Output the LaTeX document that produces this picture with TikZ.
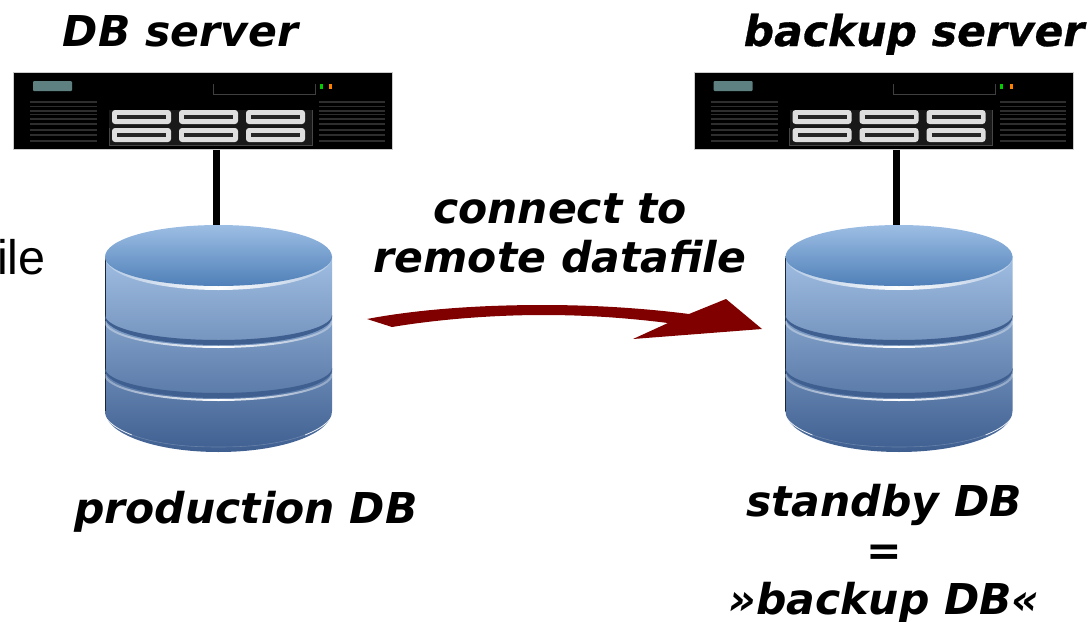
\documentclass[tikz,border=0pt]{standalone}
\usepackage{fontspec}
\usetikzlibrary{fadings}
\setmainfont{DejaVu Sans}
\newfontfamily\lib{Liberation Sans}
\newfontface\heavybi{DejaVu Sans Bold Oblique}[FakeBold=0.7]
\definecolor{arrowred}{HTML}{800000}
\definecolor{tagc}{HTML}{5F8080}
\tikzfading[name=midbright,left color=transparent!72,right color=transparent!72,middle color=transparent!0]
\newcommand{\hel}[2]{(105,#1) .. controls (105,#1+0.552*#2) and (155,#1+#2) .. (218.5,#1+#2) .. controls (282,#1+#2) and (332,#1+0.552*#2) .. (332,#1)}
\newcommand{\helrev}[2]{.. controls (332,#1+0.552*#2) and (282,#1+#2) .. (218.5,#1+#2) .. controls (155,#1+#2) and (105,#1+0.552*#2) .. (105,#1)}
% one band: dark crescent, then a highlight that is brightest in the middle
\newcommand{\dbband}[1]{%
  \fill[bandc] \hel{#1}{25} -- (332,#1+2) \helrev{#1+2}{28} -- cycle;
  \draw[white,line width=2pt,path fading=midbright] \hel{#1+6}{26};
}
\newcommand{\drawdb}[1]{%
  \shade[top color=dbtop,bottom color=dbbot] (105,256) -- \hel{411}{41} -- (332,256) -- cycle;
  \draw[line width=.5pt,black!60!dbbot] (105,256) -- (105,411);
  % bottom rim
  \draw[white,line width=.8pt,opacity=.9] (106,418) .. controls (112,426) and (122,431) .. (132,435);
  \draw[white,line width=.8pt,opacity=.9] (331,418) .. controls (325,426) and (315,431) .. (305,435);
  \draw[white,line width=.6pt,opacity=.2] (132,435) .. controls (160,445) and (190,447) .. (218.5,447) .. controls (247,447) and (277,445) .. (305,435);
  \dbband{315}
  \dbband{368}
  % top
  \fill[white,path fading=midbright] \hel{257}{33} -- cycle;
  \shade[top color=ctop,bottom color=cbot] (105,257) .. controls (105,239) and (155,225) .. (218.5,225) .. controls (282,225) and (332,239) .. (332,257) \helrev{257}{29} -- cycle;
  \coordinate (#1) at (216,225);
}
\newcommand{\drawsrv}[1]{%
  \node[srvbox] (#1) at (203,111) {};
  \fill[tagc,rounded corners=1pt] (33,81) rectangle (72,91);
  \draw[line width=.8pt,black!75] (213,84) -- (213,94) -- (315,94) -- (315,84);
  \fill[green!80!black] (319.5,83.5) rectangle (322.5,88.5);
  \fill[orange] (329,83.5) rectangle (332,88.5);
  \foreach \v in {102,106.5,111,114.5,119,124,130,135,141}{
    \draw[ventc,line width=1.5pt] (30,\v) -- (97,\v);
    \draw[ventc,line width=1.5pt] (319,\v) -- (385,\v);
  }
  \fill[black!90] (109,110) rectangle (312,145);
  \draw[black!72,line width=.8pt] (109,128) -- (109,145) -- (312,145) -- (312,110);
  \foreach \x in {112,179,246}{
    \foreach \y in {110,128}{
      \fill[black!13,rounded corners=3pt] (\x,\y) rectangle (\x+59,\y+14);
      \fill[black!85] (\x+5,\y+5) rectangle (\x+54,\y+9);
    }
  }
}
\definecolor{dbtop}{HTML}{A0BEE2}
\definecolor{dbbot}{HTML}{3F5F91}
\definecolor{ctop}{HTML}{9DBEE4}
\definecolor{cbot}{HTML}{4F80B8}
\definecolor{bandc}{HTML}{3F5F90}
\definecolor{ventc}{HTML}{2E2E2E}
\tikzset{
  srvbox/.style={fill=black,draw=black!20,line width=.5pt,minimum width=379pt,minimum height=77pt,inner sep=0pt,outer sep=0pt},
  lab/.style={font=\fontsize{42.5}{49}\selectfont\bfseries\itshape,align=center,inner sep=0pt,text=black},
  link/.style={black,line width=7pt}
}
\begin{document}
\begin{tikzpicture}[x=1pt,y=-1pt]
\useasboundingbox (0,0) rectangle (1092,621);
\clip (0,0) rectangle (1092,621);
\drawsrv{srvA}
\drawdb{dbA}
\draw[link] (dbA |- srvA.south) -- (dbA);
\begin{scope}[shift={(680.5,0)}]
\drawsrv{srvB}
\drawdb{dbB}
\draw[link] (dbB |- srvB.south) -- (dbB);
\end{scope}
\node[lab,anchor=base] (t1) at (180.5,46) {DB server};
\node[lab,anchor=base] (t2) at (914,46) {\heavybi backup server};
\node[lab,anchor=base] (t3) at (560,272.5) {connect to\\remote datafile};
\node[lab,anchor=base] (t4) at (246,523) {production DB};
\node[lab,anchor=base] (t5) at (884,614.5) {standby DB\\=\\»backup DB«};
\node[inner sep=0pt,anchor=base west,font=\fontsize{48.5}{48}\selectfont\lib] (t6) at (-3,274) {ile};
\fill[arrowred] (367,319) .. controls (430,307) and (500,305) .. (543,305) .. controls (600,305) and (650,309) .. (689,314) -- (726,299) -- (762,329) -- (633,339) -- (668,323) .. controls (620,317) and (580,315) .. (543,315) .. controls (495,315) and (440,319) .. (392,327) -- cycle;
\end{tikzpicture}
\end{document}
